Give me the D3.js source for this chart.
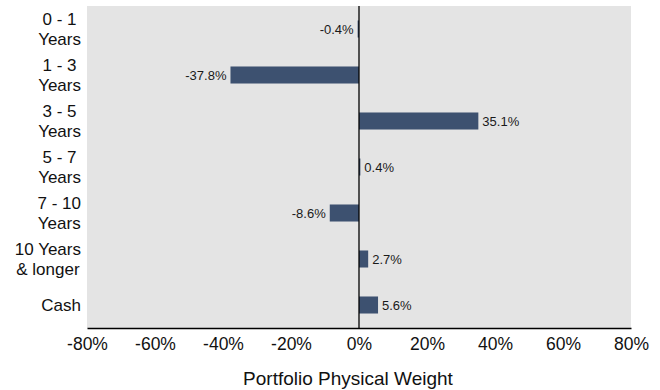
<!DOCTYPE html>
<html>
<head>
<meta charset="utf-8">
<script src="https://cdn.jsdelivr.net/npm/d3@7"></script>
<style>
  body { margin: 0; background: #fff; }
  text { font-family: "Liberation Sans", Arial, sans-serif; }
</style>
</head>
<body>
<svg id="chart" width="660" height="390"></svg>
<script>
// data
const categories = ["0 - 1\nYears", "1 - 3\nYears", "3 - 5\nYears", "5 - 7\nYears", "7 - 10\nYears", "10 Years\n& longer", "Cash"];
const weights = [-0.4, -37.8, 35.1, 0.4, -8.6, 2.7, 5.6];
const tickValues = [-80, -60, -40, -20, 0, 20, 40, 60, 80];
const axisTitle = "Portfolio Physical Weight";

const margin = {top: 6, right: 29, bottom: 62, left: 87};
const width = 660 - margin.left - margin.right;
const height = 390 - margin.top - margin.bottom;

let svg = d3.select('#chart');
let g = svg.append('g').attr('transform', `translate(${margin.left},${margin.top})`);

let x = d3.scaleLinear().domain([-80, 80]).range([0, width]);
let y = d3.scaleBand().domain(categories).range([0, height]).paddingInner(0.63).paddingOuter(0.315);

g.append('rect')
    .attr('width', width)
    .attr('height', height)
    .attr('fill', '#e4e4e4');

// bars
g.selectAll('.bar')
    .data(weights)
    .enter().append('rect')
    .attr('class', 'bar')
    .attr('x', d => x(Math.min(0, d)))
    .attr('y', (d, i) => y(categories[i]))
    .attr('width', d => Math.abs(x(d) - x(0)))
    .attr('height', y.bandwidth())
    .attr('fill', '#3d5170');

// value labels
g.selectAll('.val')
    .data(weights)
    .enter().append('text')
    .attr('class', 'val')
    .attr('x', d => d < 0 ? x(d) - 4 : x(d) + 4)
    .attr('y', (d, i) => y(categories[i]) + y.bandwidth() / 2)
    .attr('dy', '0.35em')
    .attr('text-anchor', d => d < 0 ? 'end' : 'start')
    .attr('font-size', 13)
    .attr('fill', '#1a1a1a')
    .text(d => d.toFixed(1) + '%');

// zero line
g.append('line')
    .attr('x1', x(0)).attr('x2', x(0))
    .attr('y1', 0).attr('y2', height)
    .attr('stroke', '#000')
    .attr('stroke-width', 1.3);

// x axis
let xAxis = g.append('g')
    .attr('transform', `translate(0,${height})`)
    .call(d3.axisBottom(x).tickValues(tickValues).tickSize(0).tickPadding(10).tickFormat(d => d + '%'));
xAxis.select('.domain').attr('stroke', '#000').attr('stroke-width', 1.5);
xAxis.selectAll('text')
    .attr('font-size', 17.5)
    .attr('fill', '#111');

// y labels, lines centred, block right aligned
categories.forEach((c, i) => {
    let lines = c.split('\n');
    let cy = y(c) + y.bandwidth() / 2;
    let t = g.append('text')
        .attr('font-size', 17)
        .attr('fill', '#111')
        .attr('text-anchor', 'middle');
    lines.forEach((l, j) => {
        t.append('tspan')
            .attr('y', cy + (j - (lines.length - 1) / 2) * 19.5)
            .attr('dy', '0.35em')
            .text(l);
    });
    let w = d3.max(t.selectAll('tspan').nodes(), n => n.getComputedTextLength());
    t.selectAll('tspan').attr('x', -6 - w / 2);
});

// axis title
svg.append('text')
    .attr('x', 348)
    .attr('y', 378)
    .attr('dy', '0.35em')
    .attr('text-anchor', 'middle')
    .attr('font-size', 19)
    .attr('fill', '#111')
    .text(axisTitle);
</script>
</body>
</html>
